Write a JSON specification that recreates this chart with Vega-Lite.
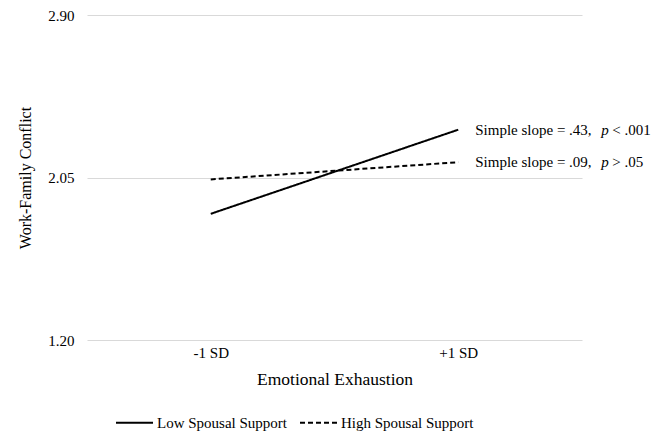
{
  "$schema": "https://vega.github.io/schema/vega-lite/v6.json",
  "width": 495,
  "height": 325,
  "autosize": {"type": "none"},
  "padding": {"left": 87, "top": 15, "right": 86, "bottom": 93},
  "background": "white",
  "config": {
    "view": {"stroke": null},
    "font": "Liberation Serif, Times New Roman, serif",
    "text": {"font": "Liberation Serif, Times New Roman, serif"},
    "axis": {"labelFont": "Liberation Serif, Times New Roman, serif", "titleFont": "Liberation Serif, Times New Roman, serif", "labelColor": "#000", "titleColor": "#000", "titleFontWeight": "normal"},
    "legend": {"labelFont": "Liberation Serif, Times New Roman, serif", "labelColor": "#000"}
  },
  "data": {
    "values": [
      {"series": "Low Spousal Support", "level": "-1 SD", "wfc": 1.86, "pre": "", "p": "", "post": ""},
      {"series": "Low Spousal Support", "level": "+1 SD", "wfc": 2.30, "pre": "Simple slope = .43,", "p": "p", "post": "< .001"},
      {"series": "High Spousal Support", "level": "-1 SD", "wfc": 2.04, "pre": "", "p": "", "post": ""},
      {"series": "High Spousal Support", "level": "+1 SD", "wfc": 2.13, "pre": "Simple slope = .09,", "p": "p", "post": "> .05"}
    ]
  },
  "encoding": {
    "x": {
      "field": "level", "type": "nominal", "sort": ["-1 SD", "+1 SD"],
      "scale": {"type": "point", "padding": 0.5},
      "axis": {"title": "Emotional Exhaustion", "labelAngle": 0, "ticks": false, "domain": false, "grid": false, "labelFontSize": 15, "labelPadding": 5, "titleFontSize": 17.5, "titlePadding": 10}
    },
    "y": {
      "field": "wfc", "type": "quantitative",
      "scale": {"domain": [1.2, 2.9], "nice": false, "zero": false},
      "axis": {"title": "Work-Family Conflict", "values": [1.2, 2.05, 2.9], "format": ".2f", "ticks": false, "domain": false, "grid": true, "gridColor": "#d9d9d9", "gridWidth": 1, "labelFontSize": 15, "labelPadding": 13, "titleFontSize": 16, "titlePadding": 14}
    }
  },
  "layer": [
    {
      "mark": {"type": "line", "color": "#000", "strokeWidth": 2},
      "encoding": {
        "detail": {"field": "series"},
        "strokeDash": {
          "field": "series", "type": "nominal",
          "scale": {"domain": ["Low Spousal Support", "High Spousal Support"], "range": [[1, 0], [5, 3]]},
          "legend": {"title": null, "orient": "none", "legendX": 28, "legendY": 388, "direction": "horizontal", "symbolType": "stroke", "symbolSize": 1369, "symbolStrokeWidth": 2, "symbolStrokeColor": "#000", "labelFontSize": 15, "labelOffset": 3, "columnPadding": 8}
        }
      }
    },
    {
      "transform": [{"filter": "datum.pre != ''"}],
      "mark": {"type": "text", "align": "left", "baseline": "middle", "dx": 17, "fontSize": 15, "color": "#000"},
      "encoding": {"text": {"field": "pre"}}
    },
    {
      "transform": [{"filter": "datum.pre != ''"}],
      "mark": {"type": "text", "align": "left", "baseline": "middle", "dx": 143, "fontSize": 15, "fontStyle": "italic", "color": "#000"},
      "encoding": {"text": {"field": "p"}}
    },
    {
      "transform": [{"filter": "datum.pre != ''"}],
      "mark": {"type": "text", "align": "left", "baseline": "middle", "dx": 154, "fontSize": 15, "color": "#000"},
      "encoding": {"text": {"field": "post"}}
    }
  ]
}
